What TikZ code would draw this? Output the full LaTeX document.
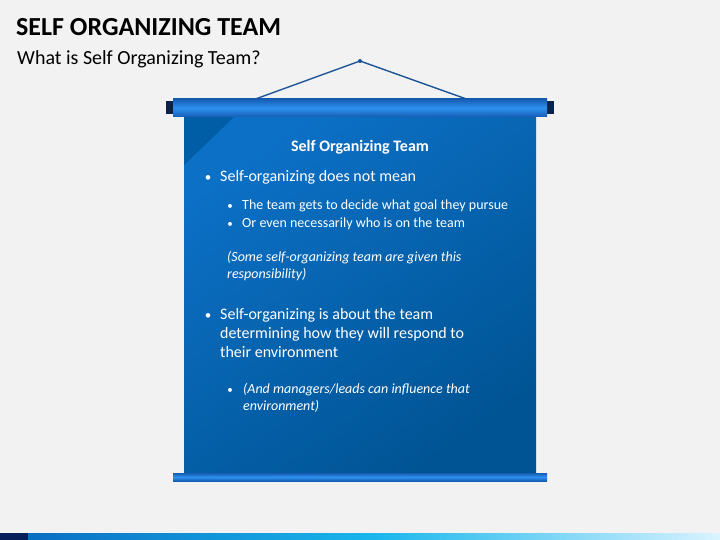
\documentclass[tikz,border=0pt]{standalone}
\usepackage{fontspec}
\setmainfont{Carlito}
\usetikzlibrary{positioning}
\definecolor{slidebg}{RGB}{242,242,242}
\definecolor{capnavy}{RGB}{8,36,76}
\definecolor{rollerblue}{RGB}{45,145,240}
\definecolor{rollerdark}{RGB}{22,92,178}
\definecolor{paneltop}{RGB}{12,112,198}
\definecolor{panelbot}{RGB}{0,84,148}
\definecolor{paneltri}{RGB}{0,94,166}
\definecolor{stringblue}{RGB}{28,84,150}
\definecolor{stripenavy}{RGB}{8,30,90}
\definecolor{stripeblue}{RGB}{10,110,195}
\definecolor{stripecyan}{RGB}{25,182,236}
\definecolor{stripelight}{RGB}{218,243,255}

\begin{document}
\begin{tikzpicture}[
    x=1pt, y=-1pt,
    roller/.style={draw=none, top color=rollerdark, bottom color=rollerdark, middle color=rollerblue},
    endcap/.style={fill=capnavy, draw=none},
    hangstring/.style={draw=stringblue, line width=1.4pt},
    titletext/.style={font=\bfseries\fontsize{26}{31}\selectfont, anchor=base west, inner sep=0pt},
    subtitletext/.style={font=\fontsize{20}{24}\selectfont, anchor=base west, inner sep=0pt},
    headtext/.style={font=\bfseries\fontsize{16}{19}\selectfont, text=white, anchor=base, inner sep=0pt},
    maintext/.style={font=\fontsize{16}{19}\selectfont, text=white, align=left, anchor=base west, inner sep=0pt},
    subtext/.style={font=\fontsize{14}{17}\selectfont, text=white, align=left, anchor=base west, inner sep=0pt},
    notetext/.style={subtext, font=\itshape\fontsize{14}{16.5}\selectfont},
    bulletdot/.style={text=white, font=\fontsize{13}{13}\selectfont, anchor=base, inner sep=0pt},
    smalldot/.style={bulletdot, font=\fontsize{11}{11}\selectfont}
]

    % --- Background ---
    \fill[slidebg] (0,0) rectangle (720,540);
    \useasboundingbox (0,0) rectangle (720,540);

    % Title
    \node[titletext] (title) at (16,36) {SELF ORGANIZING TEAM};
    \node[subtitletext] (subtitle) at (17,65) {What is Self Organizing Team?};

    % --- Scroll ---

    % Panel
    \fill[top color=paneltop, bottom color=panelbot, shading angle=35] (184,116) rectangle (536,474);
    \fill[paneltri] (184,116) -- (235,116) -- (184,165) -- cycle;

    % Strings
    \coordinate (apex) at (360,61);
    \coordinate (tieL) at (250,101);
    \coordinate (tieR) at (472,101);
    \draw[hangstring] (tieL) -- (apex) -- (tieR);
    \fill[stringblue] (apex) circle (2);

    % Top roller
    \fill[endcap] (166,101) rectangle (174,114);
    \fill[endcap] (546,101) rectangle (554,114);
    \fill[roller] (173,99) rectangle (547,117);

    % Bottom roller
    \fill[roller] (173,473) rectangle (547,481);

    % --- Text (multi-line nodes sit on their last baseline) ---
    \node[headtext] (head) at (360,152) {Self Organizing Team};

    \node[bulletdot] (dot1) at (208,182) {•};
    \node[maintext] (pt1) at (220,182) {Self-organizing does not mean};

    \node[smalldot] (dot1a) at (230,210) {•};
    \node[subtext] (pt1a) at (242,210) {The team gets to decide what goal they pursue};
    \node[smalldot] (dot1b) at (230,227) {•};
    \node[subtext] (pt1b) at (242,227) {Or even necessarily who is on the team};

    \node[notetext] (note1) at (227,278) {(Some self-organizing team are given this\\responsibility)};

    \node[bulletdot] (dot2) at (208,319) {•};
    \node[maintext] (pt2) at (220,357) {Self-organizing is about the team\\determining how they will respond to\\their environment};

    \node[smalldot] (dot2a) at (230,393) {•};
    \node[notetext] (pt2a) at (243,410) {(And managers/leads can influence that\\environment)};

    % --- Bottom stripe ---
    \fill[left color=stripeblue, right color=stripelight, middle color=stripecyan] (28,533) rectangle (720,540);
    \fill[stripenavy] (0,533) rectangle (28,540);

\end{tikzpicture}
\end{document}
